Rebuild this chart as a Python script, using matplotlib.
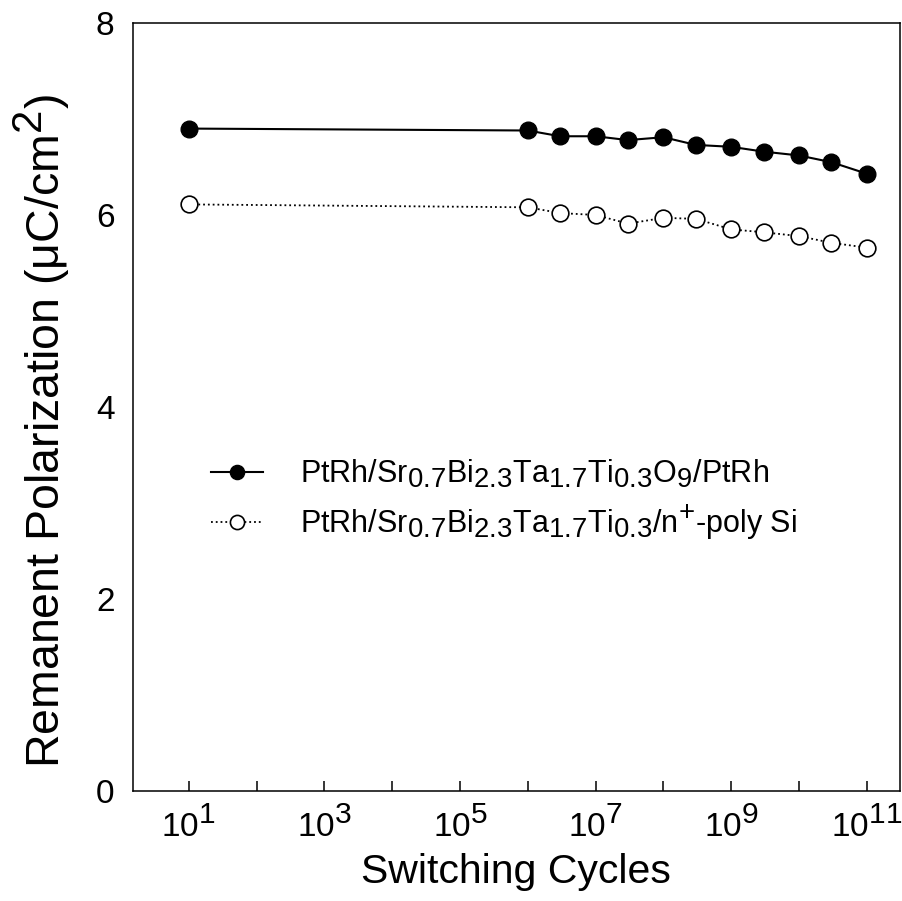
import matplotlib
matplotlib.use("Agg")
import matplotlib.pyplot as plt
import numpy as np
try:
    import matplotlib._mathtext as _mt
    _mt.SHRINK_FACTOR = 0.9
except Exception:
    pass

plt.rcParams['font.family'] = ['Liberation Sans', 'DejaVu Sans']
plt.rcParams['mathtext.fontset'] = 'custom'
plt.rcParams['mathtext.rm'] = 'Liberation Sans'
plt.rcParams['mathtext.it'] = 'Liberation Sans'
plt.rcParams['mathtext.bf'] = 'Liberation Sans'

# Data
cycles_a = [1e1, 1e6, 3e6, 1e7, 3e7, 1e8, 3e8, 1e9, 3e9, 1e10, 3e10, 1e11]
pr_a = [6.90, 6.88, 6.82, 6.82, 6.78, 6.81, 6.73, 6.71, 6.66, 6.62, 6.55, 6.43]
cycles_b = [1e1, 1e6, 3e6, 1e7, 3e7, 1e8, 3e8, 1e9, 3e9, 1e10, 3e10, 1e11]
pr_b = [6.11, 6.08, 6.02, 6.00, 5.91, 5.97, 5.96, 5.85, 5.82, 5.78, 5.71, 5.66]
label_a = r'PtRh/Sr$_{0.7}$Bi$_{2.3}$Ta$_{1.7}$Ti$_{0.3}$O$_{9}$/PtRh'
label_b = r'PtRh/Sr$_{0.7}$Bi$_{2.3}$Ta$_{1.7}$Ti$_{0.3}$/n$^{+}$-poly Si'
y_ticks = [0, 2, 4, 6, 8]
x_decades = list(range(1, 12))

fig = plt.figure(figsize=(9.02, 9.01), dpi=100)
ax = fig.add_axes([0.1469, 0.1221, 0.8509, 0.8524])

ax.plot(cycles_a, pr_a, '-', color='black', lw=1.5, marker='o', ms=12,
        mfc='black', mec='black', label=label_a)
ax.plot(cycles_b, pr_b, ':', color='black', lw=1.3, marker='o', ms=12,
        mfc='white', mec='black', mew=1.2, label=label_b)

ax.set_xscale('log')
ax.set_xlim(10**0.17, 10**11.49)
ax.set_ylim(0, 8)
ax.set_yticks(y_ticks)
ax.set_yticklabels([str(v) for v in y_ticks])
xt = [10.0**d for d in x_decades]
ax.set_xticks(xt)
ax.set_xticklabels([r'$10^{%d}$' % d if d % 2 == 1 else '' for d in x_decades])
ax.xaxis.set_minor_locator(matplotlib.ticker.NullLocator())
ax.tick_params(axis='both', which='major', direction='in', length=7, width=1.1,
               labelsize=24, pad=11)
ax.tick_params(axis='y', length=0, pad=13)
for s in ax.spines.values():
    s.set_linewidth(1.1)

ax.set_xlabel('Switching Cycles', fontsize=29.5, labelpad=7)
ax.set_ylabel(r'Remanent Polarization (μC/cm$^{2}$)', fontsize=33.5)
ax.yaxis.set_label_coords(-0.079, 0.469)

leg = ax.legend(loc='upper left', bbox_to_anchor=(0.067, 0.47), frameon=False,
                fontsize=22, handlelength=1.7, handletextpad=1.2,
                labelspacing=0.42, markerscale=0.85)

fig.savefig('out.png', dpi=100)
